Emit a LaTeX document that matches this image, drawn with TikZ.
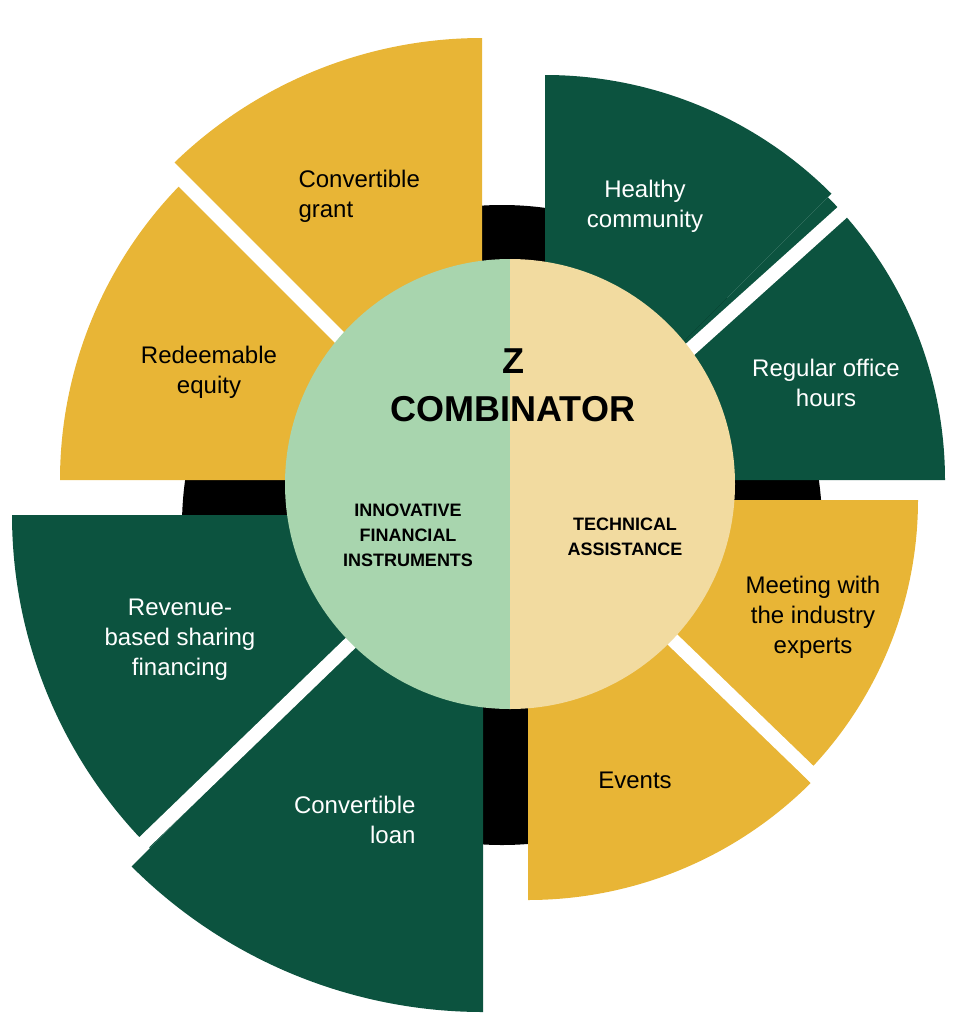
\documentclass[tikz,border=0pt]{standalone}
\usepackage{fontspec}
\setmainfont{Liberation Sans}
\definecolor{dgreen}{HTML}{0C533F}
\definecolor{gold}{HTML}{E8B536}
\definecolor{lgreen}{HTML}{A8D5AE}
\definecolor{lsand}{HTML}{F2DBA0}
% one wedge: centre x, centre y, start angle, end angle, radius, colour
\newcommand{\wedgeSec}[6]{\fill[#6] (#1,#2) -- ++(#3:#5) arc[start angle=#3, end angle=#4, radius=#5] -- cycle;}
\begin{document}
\begin{tikzpicture}[x=1pt,y=-1pt]
          \tikzstyle{lbl} = [font=\fontsize{24}{30}\selectfont, align=center]
          \tikzstyle{lblW} = [lbl, text=white]
          \tikzstyle{small} = [font=\fontsize{18}{25}\selectfont\bfseries, align=center]
          \tikzstyle{gap} = [draw=white, line width=14pt]

          \path[use as bounding box] (0,0) rectangle (956,1028);
          \fill[black] (502,525) circle (320);

          % top left
          \wedgeSec{482}{480}{180}{225}{422}{gold}
          \wedgeSec{482}{480}{225}{270}{442}{gold}
          \draw[gap] (482,480) -- ++(225:450);
          % top right
          \wedgeSec{545}{480}{270}{315}{405}{dgreen}
          \wedgeSec{545}{480}{315}{360}{400}{dgreen}
          \draw[gap] (545,480) -- ++(318:420);
          % bottom right
          \wedgeSec{528}{500}{0}{45}{390}{gold}
          \wedgeSec{528}{500}{45}{90}{400}{gold}
          \draw[gap] (528,500) -- ++(44:420);
          % bottom left
          \wedgeSec{483}{515}{90}{135}{497}{dgreen}
          \wedgeSec{483}{515}{135}{180}{471}{dgreen}
          \draw[gap] (483,515) -- ++(136:500);

          % centre disc
          \fill[lgreen] (510,259) arc[start angle=270, end angle=90, radius=225] -- cycle;
          \fill[lsand] (510,259) arc[start angle=-90, end angle=90, radius=225] -- cycle;

          \node(Title)[font=\fontsize{36}{48}\selectfont\bfseries, align=center] at (513,385) {Z\\COMBINATOR};
          \node(Instruments)[small] at (408,535) {INNOVATIVE\\FINANCIAL\\INSTRUMENTS};
          \node(Assistance)[small] at (625,537) {TECHNICAL\\ASSISTANCE};

          \node(Grant)[lbl, align=left, anchor=west] at (295,196) {Convertible\\grant};
          \node(Equity)[lbl] at (209,372) {Redeemable\\equity};
          \node(Community)[lblW] at (645,206) {Healthy\\community};
          \node(Office)[lblW] at (826,383) {Regular office\\hours};
          \node(Experts)[lbl] at (813,617) {Meeting with\\the industry\\experts};
          \node(Events)[lbl] at (635,780) {Events};
          \node(Loan)[lblW, align=right, anchor=east] at (419,820) {Convertible\\loan};
          \node(Revenue)[lblW] at (180,640) {Revenue-\\based sharing\\financing};
        \end{tikzpicture}
\end{document}
